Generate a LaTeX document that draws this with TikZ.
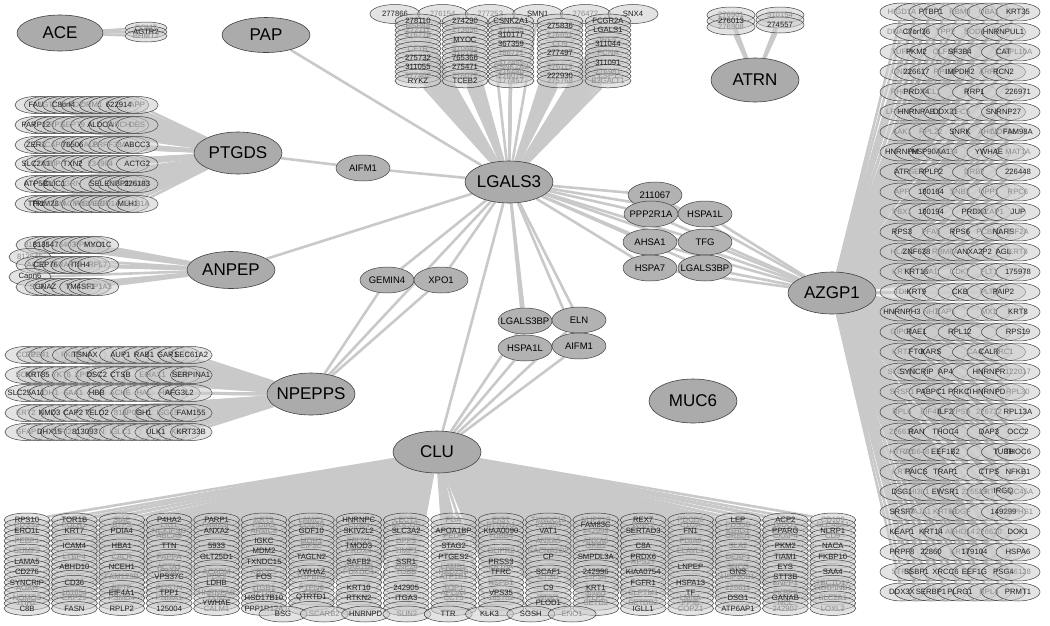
\documentclass[tikz,border=0pt]{standalone}
\usepackage{fontspec}
\setmainfont{Liberation Sans}
\usetikzlibrary{shapes.geometric,backgrounds}
\colorlet{cdk}{black!88}
\colorlet{clt}{black!45}
\colorlet{edgecol}{black!21}
\newcommand\ctrtxt[1]{\makebox[0pt]{#1}}
\newcommand\stk[7]{%
  \foreach \lb/\sy [count=\k] in {#7}{%
    \node[sm,#1] (#2-\k) at ({#3+(\k-1)*(#5)},{#4+(\k-1)*(#6)}) {};%
    \xdef\stkn{\k}}%
  \expandafter\xdef\csname nn#2\endcsname{\stkn}%
  \foreach \lb/\sy [count=\k] in {#7}{%
    \node[lab,text=c\sy] (#2-t\k) at (#2-\k) {\lb};}}
\newcommand\fan[2]{%
  \edef\fanN{\csname nn#2\endcsname}%
  \foreach \k in {1,...,\fanN}{\draw[edge] (#1) -- (#2-\k);}}
\tikzset{
  hub/.style={ellipse, draw=black!75, line width=0.6pt, fill=black!33,
    minimum width=88pt, minimum height=42pt, inner sep=0pt, font=\fontsize{17}{18}\selectfont},
  mid/.style={ellipse, draw=black!75, line width=0.5pt, fill=black!30,
    minimum width=54pt, minimum height=26pt, inner sep=0pt, font=\fontsize{9.5}{10}\selectfont},
  sm/.style={ellipse, draw=black!75, line width=0.5pt, fill=black!20, fill opacity=0.55, inner sep=0pt},
  cs/.style={minimum width=46pt, minimum height=14pt},
  rs/.style={minimum width=44pt, minimum height=18pt},
  ps/.style={minimum width=42pt, minimum height=17pt},
  ts/.style={minimum width=50pt, minimum height=19pt},
  bs/.style={minimum width=48pt, minimum height=16pt},
  as/.style={minimum width=48pt, minimum height=16pt},
  gs/.style={minimum width=42pt, minimum height=12pt},
  lab/.style={inner sep=0pt, font=\fontsize{7.7}{8}\selectfont},
  edge/.style={draw=edgecol, line width=2.6pt},
}
\begin{document}
\begin{tikzpicture}[x=1pt,y=-1pt]
\useasboundingbox (0,0) rectangle (1050,625);

% ---------------- hubs ----------------
\node[hub,minimum width=86pt,minimum height=36pt] (ACE) at (60,33) {\ctrtxt{ACE}};
\node[hub,minimum height=35pt] (PAP) at (266,35) {\ctrtxt{PAP}};
\node[hub,minimum height=44pt] (ATRN) at (755,80) {\ctrtxt{ATRN}};
\node[hub] (PTGDS) at (238,153) {\ctrtxt{PTGDS}};
\node[hub] (LGALS3) at (509,182) {\ctrtxt{LGALS3}};
\node[hub,minimum height=37pt] (ANPEP) at (231,270) {\ctrtxt{ANPEP}};
\node[hub] (AZGP1) at (832,293) {\ctrtxt{AZGP1}};
\node[hub] (NPEPPS) at (311,394) {\ctrtxt{NPEPPS}};
\node[hub,minimum height=44pt] (MUC6) at (693,401) {\ctrtxt{MUC6}};
\node[hub] (CLU) at (437,452) {\ctrtxt{CLU}};

% ---------------- middle nodes ----------------
\node[mid] (AIFM1a) at (363,168) {\ctrtxt{AIFM1}};
\node[mid] (n211067) at (655,195) {\ctrtxt{211067}};
\node[mid] (PPP2R1A) at (651,214) {\ctrtxt{PPP2R1A}};
\node[mid] (HSPA1La) at (705,214) {\ctrtxt{HSPA1L}};
\node[mid] (AHSA1) at (650,242) {\ctrtxt{AHSA1}};
\node[mid] (TFG) at (705,242) {\ctrtxt{TFG}};
\node[mid] (HSPA7) at (650,268) {\ctrtxt{HSPA7}};
\node[mid] (LGALS3BPa) at (705,268) {\ctrtxt{LGALS3BP}};
\node[mid] (GEMIN4) at (387,280) {\ctrtxt{GEMIN4}};
\node[mid] (XPO1) at (441,280) {\ctrtxt{XPO1}};
\node[mid] (LGALS3BPb) at (525,321) {\ctrtxt{LGALS3BP}};
\node[mid] (ELN) at (579,320) {\ctrtxt{ELN}};
\node[mid] (HSPA1Lb) at (525,348) {\ctrtxt{HSPA1L}};
\node[mid] (AIFM1b) at (579,346) {\ctrtxt{AIFM1}};

% ---------------- small stacks ----------------
\stk{gs}{ag}{146}{28}{0}{4}{COMT/lt, AGTR2/dk, BHMT2/lt}
\stk{as}{atl}{731}{15}{0}{6}{276901/lt, 276013/dk, 276908/lt}
\stk{as}{atr}{780}{15}{0}{5}{310154/lt, {}/lt, 274557/dk}

% LGALS3 top
\stk{ts}{ltop}{395}{14}{47.6}{0}{277866/dk, 276154/lt, 277253/lt, SMN1/dk, 276472/lt, SNX4/dk}
\stk{cs}{la}{418}{21}{0}{4.6}{278110/dk, HSPA8/lt, 272111/lt, 276778/lt, {}/lt, {}/lt, CFTR/lt, {}/lt, 275732/dk, {}/lt, 311055/dk, {}/lt, 277402/lt, RYKZ/dk}
\stk{cs}{lb}{465}{21}{0}{4.6}{274290/dk, {}/lt, 273650/lt, {}/lt, MYOC/dk, {}/lt, 310682/lt, 310123/lt, 765366/dk, {}/lt, 275471/dk, {}/lt, 276072/lt, TCEB2/dk}
\stk{cs}{lc}{511}{21}{0}{4.6}{CSNK2A1/dk, {}/lt, 311355/lt, 310177/dk, {}/lt, 367359/dk, {}/lt, 186721/lt, {}/lt, 312455/lt, CSNK2A2/lt, 276480/lt, 276079/lt, 177457/lt}
\stk{cs}{ld}{560}{21}{0}{4.6}{{}/lt, 275836/dk, {}/lt, 276851/lt, {}/lt, CD9/lt, {}/lt, 277497/dk, {}/lt, {}/lt, 276113/lt, {}/lt, 222930/dk, 275768/lt}
\stk{cs}{le}{608}{21}{0}{4.6}{FCGR2A/dk, {}/lt, LGALS1/dk, {}/lt, IRF5/lt, 311044/dk, {}/lt, PCNA/lt, {}/lt, 311091/dk, {}/lt, 276981/lt, LSP1/lt, B3GALT1/lt}

% PTGDS rows
\stk{ps}{pg1}{36}{105}{9.2}{0}{FAU/dk, AGT/lt, {}/lt, C8orf4/dk, ACO2/lt, {}/lt, ORM1/lt, {}/lt, {}/lt, 622914/dk, {}/lt, APP/lt}
\stk{ps}{pg2}{36}{125}{9.2}{0}{PARP12/dk, {}/lt, SRPX/lt, {}/lt, SEPT9/lt, {}/lt, {}/lt, ALDOA/dk, {}/lt, HIBCH/lt, {}/lt, DES/lt}
\stk{ps}{pg3}{36}{145}{9.2}{0}{ZER1/dk, {}/lt, BCAP31/lt, {}/lt, 76506/dk, {}/lt, ALB/lt, {}/lt, PRPF38A/lt, {}/lt, {}/lt, ABCC3/dk}
\stk{ps}{pg4}{36}{164}{9.2}{0}{SLC2A1/dk, CA2/lt, PIP/lt, {}/lt, TXN2/dk, {}/lt, {}/lt, 234984/lt, {}/lt, {}/lt, {}/lt, ACTG2/dk}
\stk{ps}{pg5}{36}{184}{9.2}{0}{ATP5B/dk, TXN/lt, CLIC1/dk, {}/lt, GRN/lt, {}/lt, {}/lt, {}/lt, SELENBP1/dk, {}/lt, SERPINA3/lt, 226183/dk}
\stk{ps}{pg6}{36}{204}{9.2}{0}{TPI1/dk, TRIM28/dk, BCAM/lt, {}/lt, ACM2/lt, FN1/lt, SIAE/lt, EBP/lt, CD14/lt, {}/lt, MLH1/dk, RAB1A/lt}

% ANPEP rows
\stk{ps}{an1}{37}{245}{8.7}{0}{813544/lt, 813547/dk, {}/lt, 813403/lt, {}/lt, {}/lt, PPP1CA/lt, MYO1C/dk}
\stk{ps}{an2}{30}{257}{0}{0}{813545/lt}
\stk{ps}{an3}{37}{265}{8.7}{0}{ACO1/lt, CEP76/dk, {}/lt, GRAP/lt, {}/lt, ITIH4/dk, {}/lt, RPL7/lt}
\stk{ps}{an4}{30}{277}{0}{0}{Capn6/dk}
\stk{ps}{an5}{37}{287}{8.7}{0}{SLC/lt, GNAZ/dk, {}/lt, {}/lt, {}/lt, TM4SF1/dk, {}/lt, ATP1A3/lt}

% NPEPPS rows
\stk{ps}{np1}{26}{355}{11.8}{0}{CCT2/lt, EPB41/lt, {}/lt, {}/lt, FKBP4/lt, TSNAX/dk, {}/lt, {}/lt, AUP1/dk, {}/lt, RAB1/dk, {}/lt, GAR1/dk, {}/lt, SEC61A2/dk}
\stk{ps}{np2}{26}{375}{11.8}{0}{SOD1/lt, KRT85/dk, {}/lt, YKT6/lt, {}/lt, XPO5/lt, DSC2/dk, {}/lt, CTSB/dk, {}/lt, E6/lt, HAX1/lt, {}/lt, H2B/lt, SERPINA1/dk}
\stk{ps}{np3}{26}{393}{11.8}{0}{SLC25A11/dk, {}/lt, IDH1/lt, {}/lt, SAA1/lt, {}/lt, HBB/dk, {}/lt, ACHE/lt, {}/lt, HAL/lt, {}/lt, HRG/lt, AFG3L2/dk, {}/lt}
\stk{ps}{np4}{26}{413}{11.8}{0}{KRT2/lt, {}/lt, NMD3/dk, {}/lt, CAP2/dk, {}/lt, TELO2/dk, {}/lt, 813/lt, APOB/lt, GH1/dk, {}/lt, ISG15/lt, {}/lt, FAM155/dk}
\stk{ps}{np5}{26}{432}{11.8}{0}{GFAP/lt, {}/lt, DHX15/dk, WIPI2/lt, {}/lt, 813093/dk, FYN/lt, {}/lt, IGLC1/lt, {}/lt, {}/lt, ULK1/dk, {}/lt, KDR/lt, KRT33B/dk}

% AZGP1 rows
\stk{rs}{rr0}{902}{12}{14.5}{0}{HIGD1A/lt, {}/lt, PTBP1/dk, {}/lt, RBM3/lt, {}/lt, UBA1/lt, {}/lt, KRT35/dk}
\stk{rs}{rr1}{902}{32}{14.5}{0}{DNAJB1/lt, C7orf36/dk, {}/lt, TPP2/lt, {}/lt, SOD1/lt, {}/lt, HNRNPUL1/dk, {}/lt}
\stk{rs}{rr2}{902}{52}{14.5}{0}{TUFM/lt, PKM2/dk, {}/lt, OLFM4/lt, SF3B4/dk, {}/lt, {}/lt, CAT/dk, RPL10A/lt}
\stk{rs}{rr3}{902}{72}{14.5}{0}{CNN1/lt, 226617/dk, {}/lt, RPL28/lt, IMPDH2/dk, {}/lt, ARF1/lt, RCN2/dk, {}/lt}
\stk{rs}{rr4}{902}{92}{14.5}{0}{RHOA/lt, PRDX4/dk, CCL1/lt, {}/lt, {}/lt, RRP1/dk, {}/lt, {}/lt, 226971/dk}
\stk{rs}{rr5}{902}{112}{14.5}{0}{LRRFIP1/lt, HNRNPAB/dk, {}/lt, DDX21/dk, RFC5/lt, {}/lt, {}/lt, SNRNP27/dk, {}/lt}
\stk{rs}{rr6}{902}{132}{14.5}{0}{AAK1/lt, {}/lt, RPL22/lt, {}/lt, SNRK/dk, {}/lt, AHCY/lt, NOP56/lt, FAM98A/dk}
\stk{rs}{rr7}{902}{152}{14.5}{0}{HNRNPM/dk, {}/lt, HSP90AA1/dk, PA2G4/lt, {}/lt, {}/lt, YWHAE/dk, {}/lt, MAT1A/lt}
\stk{rs}{rr8}{902}{172}{14.5}{0}{ATR/dk, SET/lt, RPLP2/dk, {}/lt, {}/lt, DRB2/lt, {}/lt, {}/lt, 226448/dk}
\stk{rs}{rr9}{902}{192}{14.5}{0}{APP/lt, {}/lt, 180164/dk, {}/lt, SNB1/lt, {}/lt, UPP1/lt, {}/lt, RPC6/lt}
\stk{rs}{rr10}{902}{212}{14.5}{0}{PBX1/lt, {}/lt, 180194/dk, {}/lt, {}/lt, PRDX1/dk, DAZAP1/lt, {}/lt, JUP/dk}
\stk{rs}{rr11}{902}{232}{14.5}{0}{RPS3/dk, {}/lt, PFA5/lt, {}/lt, RPS6/dk, {}/lt, PCBP1/lt, NARS/dk, EIF2A/lt}
\stk{rs}{rr12}{902}{252}{14.5}{0}{HLA-A/lt, ZNF638/dk, {}/lt, RBM8A/lt, {}/lt, ANXA2P2/dk, {}/lt, AGL/dk, KRT8/lt}
\stk{rs}{rr13}{902}{272}{14.5}{0}{KRT1/lt, KRT16/dk, PA1/lt, {}/lt, CDK7/lt, {}/lt, FLT1/lt, {}/lt, 175978/dk}
\stk{rs}{rr14}{902}{292}{14.5}{0}{TDH/lt, KRT9/dk, {}/lt, {}/lt, CKB/dk, {}/lt, PLT1/lt, PAIP2/dk, {}/lt}
\stk{rs}{rr15}{902}{312}{14.5}{0}{HNRNPH3/dk, {}/lt, NH1/lt, RAP1/lt, {}/lt, {}/lt, MX1/lt, {}/lt, KRT8/dk}
\stk{rs}{rr16}{902}{332}{14.5}{0}{GIPC1/lt, RAE1/dk, {}/lt, {}/lt, RPL12/dk, {}/lt, {}/lt, {}/lt, RPS19/dk}
\stk{rs}{rr17}{902}{352}{14.5}{0}{KRT2/lt, FTO/dk, KARS/dk, {}/lt, {}/lt, CA4/lt, CALR/dk, PRC1/lt, {}/lt}
\stk{rs}{rr18}{902}{372}{14.5}{0}{SLC1A5/lt, SYNCRIP/dk, {}/lt, AP4/dk, {}/lt, {}/lt, HNRNPR/dk, {}/lt, 122017/lt}
\stk{rs}{rr19}{902}{392}{14.5}{0}{SRSF1/lt, {}/lt, PABPC1/dk, {}/lt, PRKCI/dk, {}/lt, HNRNPD/dk, {}/lt, RPL30/lt}
\stk{rs}{rr20}{902}{412}{14.5}{0}{RPL6/lt, {}/lt, EIF4B/lt, ILF2/dk, RPS8/lt, {}/lt, 226732/lt, {}/lt, RPL13A/dk}
\stk{rs}{rr21}{902}{432}{14.5}{0}{226618/lt, RAN/dk, {}/lt, THOC4/dk, {}/lt, {}/lt, DAP3/dk, {}/lt, OCC2/dk}
\stk{rs}{rr22}{902}{452}{14.5}{0}{HTRA1/lt, 226648/lt, {}/lt, EEF1B2/dk, {}/lt, {}/lt, {}/lt, TUBB/dk, THOC6/dk}
\stk{rs}{rr23}{902}{472}{14.5}{0}{KRT5/lt, PAICS/dk, {}/lt, TRAP1/dk, {}/lt, {}/lt, CTPS/dk, {}/lt, NFKB1/dk}
\stk{rs}{rr24}{902}{492}{14.5}{0}{DSG1/dk, CHI3L1/lt, {}/lt, EWSR1/dk, {}/lt, 226519/lt, KRT7/lt, IRGQ/dk, UNC45A/lt}
\stk{rs}{rr25}{902}{512}{14.5}{0}{SRSF7/dk, DNAJA1/lt, {}/lt, KRT6B/lt, HDGF/lt, {}/lt, {}/lt, 149299/dk, SEPHS1/lt}
\stk{rs}{rr26}{902}{532}{14.5}{0}{KEAP1/dk, {}/lt, KRT14/dk, {}/lt, ABHD14/lt, {}/lt, 226620/lt, {}/lt, DOK1/dk}
\stk{rs}{rr27}{902}{552}{14.5}{0}{PRPF8/dk, {}/lt, 22860/dk, {}/lt, KRT4/lt, 179104/dk, {}/lt, {}/lt, HSPA6/dk}
\stk{rs}{rr28}{902}{572}{14.5}{0}{STRN/lt, SSBP1/dk, {}/lt, XRCC6/dk, {}/lt, EEF1G/dk, {}/lt, PSG4/dk, 226128/lt}
\stk{rs}{rr29}{902}{592}{14.5}{0}{DDX3X/dk, {}/lt, SERBP1/dk, {}/lt, PLRG1/dk, {}/lt, RPL4/lt, {}/lt, PRMT1/dk}

% CLU columns
\stk{cs}{c0}{27}{520}{0}{5.2}{RPS10/dk, PDSS2/lt, ERO1L/dk, {}/lt, PEBP1/lt, {}/lt, SUMF2/lt, {}/lt, LAMA5/dk, {}/lt, CD276/dk, {}/lt, SYNCRIP/dk, AOAH/lt, {}/lt, NOMO3/lt, ITIH2/lt, C8B/dk}
\stk{cs}{c1}{74.4}{520}{0}{5.2}{TOR1B/dk, FOLR1/lt, KRT7/dk, {}/lt, {}/lt, ICAM4/dk, {}/lt, LTBP4/lt, {}/lt, ABHD10/dk, {}/lt, {}/lt, CD36/dk, {}/lt, 101654/lt, ERP29/lt, {}/lt, FASN/dk}
\stk{cs}{c2}{121.8}{520}{0}{5.2}{SIAE/lt, BTF3/lt, PDIA4/dk, {}/lt, {}/lt, HBA1/dk, {}/lt, CALR/lt, {}/lt, NCEH1/dk, {}/lt, FAM129B/lt, {}/lt, BPTF/lt, EIF4A1/dk, PSMD4/lt, {}/lt, RPLP2/dk}
\stk{cs}{c3}{169.2}{520}{0}{5.2}{P4HA2/dk, LIG1/lt, NCKIPSD/lt, ABCA8/lt, {}/lt, TTN/dk, {}/lt, PAPPA/lt, {}/lt, ACTA1/lt, ICAM1/lt, VPS37C/dk, {}/lt, POSTN/lt, TPP1/dk, PNMA1/lt, {}/lt, 125004/dk}
\stk{cs}{c4}{216.6}{520}{0}{5.2}{PARP1/dk, FAM83F/lt, ANXA2/dk, {}/lt, {}/lt, 5933/dk, {}/lt, GLT25D1/dk, {}/lt, {}/lt, ACADM/lt, PCK2/lt, LDHB/dk, {}/lt, HNRNPAB/lt, TXN2/lt, YWHAE/dk, CALM1/lt}
\stk{cs}{c5}{264}{520}{0}{5.2}{KRT9/lt, PDIA3/lt, ARMC8/lt, {}/lt, IGKC/dk, {}/lt, MDM2/dk, {}/lt, TXNDC15/dk, {}/lt, XRCC5/lt, FOS/dk, {}/lt, ITGB1/lt, TPD52/lt, HSD17B10/dk, {}/lt, PPP1R12A/dk}
\stk{cs}{c6}{311.4}{520}{0}{5.2}{LAMC1/lt, 123288/lt, GDF10/dk, {}/lt, MDH1/lt, EIF3C/lt, {}/lt, TAGLN2/dk, {}/lt, {}/lt, YWHAZ/dk, TGFBR2/lt, {}/lt, PTPN6/lt, CPE/lt, QTRTD1/dk, {}/lt, {}/lt}
\stk{cs}{c7}{358.8}{520}{0}{5.2}{HNRNPC/dk, CUBN/lt, SKIV2L2/dk, {}/lt, FBLN1/lt, TMOD3/dk, PRDX4/lt, {}/lt, SAFB2/dk, RAB11B/lt, PDXDC1/lt, {}/lt, {}/lt, KRT10/dk, {}/lt, RTKN2/dk, {}/lt, {}/lt}
\stk{cs}{c8}{406.2}{520}{0}{5.2}{LECT1/lt, MOCOS/lt, SLC3A2/dk, {}/lt, DPP3/lt, {}/lt, TIMP1/lt, {}/lt, SSR1/dk, ZNF24/lt, TUBB/lt, {}/lt, {}/lt, 242905/dk, {}/lt, ITGA3/dk, {}/lt, {}/lt}
\stk{cs}{c9}{453.6}{520}{0}{5.2}{FGA/lt, {}/lt, APOA1BP/dk, PEDF/lt, {}/lt, STAG2/dk, {}/lt, PTGES2/dk, {}/lt, LAMB1/lt, RAD23B/lt, ATP1B1/lt, {}/lt, TOP1/lt, APOA4/lt, CCT5/lt, {}/lt, {}/lt}
\stk{cs}{c10}{501}{520}{0}{5.2}{PIGT/lt, BTN2A1/lt, KIAA0090/dk, TUBB4/lt, {}/lt, {}/lt, GLIPR2/lt, {}/lt, PRSS3/dk, KRT6A/lt, TFRC/dk, {}/lt, HSPB1/lt, {}/lt, VPS35/dk, 163702/lt, {}/lt, {}/lt}
\stk{cs}{c11}{548.4}{520}{0}{5.2}{TXNDC12/lt, 227003/lt, VAT1/dk, {}/lt, ANXA5/lt, {}/lt, CACNA2D2/lt, CP/dk, {}/lt, {}/lt, SCAF1/dk, CTSD/lt, {}/lt, C9/dk, {}/lt, WNK1/lt, PLOD1/dk, {}/lt}
\stk{cs}{c12}{595.8}{520}{0}{5.2}{NUP210/lt, FAM83C/dk, 242993/lt, {}/lt, ANXA6/lt, GRB2/lt, {}/lt, SMPDL3A/dk, {}/lt, {}/lt, 242996/dk, EIF3A/lt, {}/lt, KRT1/dk, SNW1/lt, PLP2/lt, SETD2/lt, {}/lt}
\stk{cs}{c13}{643.2}{520}{0}{5.2}{REX7/dk, WNK2/lt, SERTAD3/dk, {}/lt, {}/lt, C8A/dk, {}/lt, PRDX6/dk, RPS27/lt, {}/lt, KIAA0754/dk, {}/lt, FGFR1/dk, {}/lt, CLPTM1/lt, {}/lt, SETDB2/lt, IGLL1/dk}
\stk{cs}{c14}{690.6}{520}{0}{5.2}{PDCD6/lt, C1QA/lt, FN1/dk, {}/lt, PDIA6/lt, {}/lt, ELAVL1/lt, {}/lt, {}/lt, LNPEP/dk, {}/lt, {}/lt, HSPA13/dk, {}/lt, TF/dk, LMNA/lt, PPIB/lt, COPZ1/lt}
\stk{cs}{c15}{738}{520}{0}{5.2}{LEP/dk, PDS5B/lt, IGHG1/lt, OR8U1/lt, {}/lt, SLA2/lt, {}/lt, DEAF1/lt, {}/lt, SNCG/lt, GNS/dk, HSP90B1/lt, {}/lt, 226611/lt, {}/lt, DSG1/dk, {}/lt, ATP6AP1/dk}
\stk{cs}{c16}{785.4}{520}{0}{5.2}{ACP2/dk, DIDO1/lt, PPARG/dk, CKAP4/lt, {}/lt, PKM2/dk, {}/lt, TIAM1/dk, {}/lt, EYS/dk, {}/lt, STT3B/dk, ENPP1/lt, {}/lt, FKBP9/lt, GANAB/dk, NCL/lt, 242907/lt}
\stk{cs}{c17}{832.8}{520}{0}{5.2}{CD109/lt, SLC48A1/lt, NLRP1/dk, CD9/lt, {}/lt, NACA/dk, {}/lt, FKBP10/dk, {}/lt, {}/lt, SAA4/dk, {}/lt, TBC1D17/lt, SERPINB1/lt, {}/lt, SLC2A1/lt, {}/lt, LOXL2/lt}
\stk{bs}{cb}{283}{614}{41.3}{0}{BSG/dk, SCARB2/lt, HNRNPD/dk, SUN2/lt, TTR/dk, KLK3/dk, SGSH/dk, ENO1/lt}

% ---------------- connectors ----------------
\begin{pgfonlayer}{background}
  \fan{ACE}{ag}
  \fan{ATRN}{atl}
  \fan{ATRN}{atr}
  \draw[edge] (PAP) -- (LGALS3);
  \draw[edge] (PTGDS) -- (AIFM1a);
  \draw[edge] (AIFM1a) -- (LGALS3);
  \draw[edge] (ANPEP) -- (LGALS3);
  \draw[edge] (NPEPPS) -- (GEMIN4);
  \draw[edge] (NPEPPS) -- (XPO1);
  \draw[edge] (NPEPPS) -- (LGALS3);
  \draw[edge] (LGALS3) -- (GEMIN4);
  \draw[edge] (LGALS3) -- (XPO1);
  \draw[edge] (LGALS3) -- (CLU);
  \foreach \m in {LGALS3BPb,ELN,HSPA1Lb,AIFM1b}{
    \draw[edge] (LGALS3) -- (\m);
    \draw[edge] (CLU) -- (\m);}
  \foreach \m in {n211067,PPP2R1A,HSPA1La,AHSA1,TFG,HSPA7,LGALS3BPa}{
    \draw[edge] (LGALS3) -- (\m);
    \draw[edge] (AZGP1) -- (\m);}
  \draw[edge] (LGALS3) -- (AZGP1);
  \fan{LGALS3}{ltop}
  \foreach \c in {la,lb,lc,ld,le}{\fan{LGALS3}{\c}}
  \foreach \r in {1,...,6}{\fan{PTGDS}{pg\r}}
  \foreach \r in {1,...,5}{\fan{ANPEP}{an\r}}
  \foreach \r in {1,...,5}{\fan{NPEPPS}{np\r}}
  \foreach \r in {0,...,29}{\fan{AZGP1}{rr\r}}
  \foreach \c in {0,...,17}{\fan{CLU}{c\c}}
  \fan{CLU}{cb}
\end{pgfonlayer}
\end{tikzpicture}
\end{document}
